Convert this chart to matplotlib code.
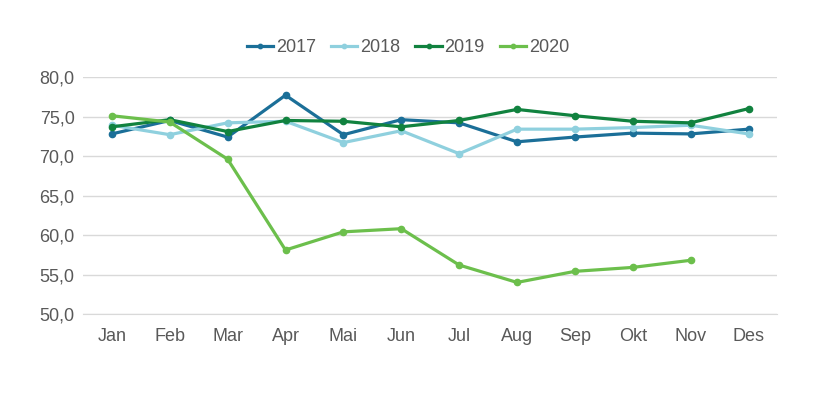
import matplotlib

matplotlib.use("Agg")
import matplotlib.pyplot as plt
from matplotlib.ticker import FuncFormatter

months = ["Jan", "Feb", "Mar", "Apr", "Mai", "Jun", "Jul", "Aug", "Sep", "Okt", "Nov", "Des"]
y2017 = [72.8, 74.5, 72.4, 77.7, 72.7, 74.6, 74.2, 71.8, 72.4, 72.9, 72.8, 73.4]
y2018 = [73.9, 72.7, 74.2, 74.4, 71.7, 73.2, 70.3, 73.4, 73.4, 73.6, 73.9, 72.8]
y2019 = [73.7, 74.6, 73.1, 74.5, 74.4, 73.7, 74.5, 75.9, 75.1, 74.4, 74.2, 76.0]
y2020 = [75.1, 74.3, 69.6, 58.1, 60.4, 60.8, 56.2, 54.0, 55.4, 55.9, 56.8]

plt.rcParams["font.family"] = ["Liberation Sans", "DejaVu Sans"]

fig = plt.figure(figsize=(8.21, 3.93), dpi=100)
ax = fig.add_axes([0.101, 0.201, 0.846, 0.603])

series = [
    ("2017", y2017, "#1b6f98"),
    ("2018", y2018, "#8fd0de"),
    ("2019", y2019, "#11823f"),
    ("2020", y2020, "#6cbf4c"),
]
for label, vals, color in series:
    ax.plot(range(len(vals)), vals, "-o", color=color, lw=2.3, ms=4.5, label=label)

ax.set_xlim(-0.5, 11.5)
ax.set_ylim(50, 80)
ax.set_yticks(range(50, 81, 5))
ax.yaxis.set_major_formatter(FuncFormatter(lambda v, _: f"{v:.1f}".replace(".", ",")))
ax.set_xticks(range(12))
ax.set_xticklabels(months)
ax.grid(axis="y", color="#d9d9d9", lw=1)
ax.set_axisbelow(True)
for s in ["top", "right", "left"]:
    ax.spines[s].set_visible(False)
ax.spines["bottom"].set_color("#d9d9d9")
ax.tick_params(length=0, labelsize=13, colors="#595959")
ax.tick_params(axis="x", pad=10)
ax.tick_params(axis="y", pad=6)

# legend sits a bit left of the axes centre in the original
ax.legend(loc="lower center", bbox_to_anchor=(0.468, 1.02), ncol=4, frameon=False,
          fontsize=13, labelcolor="#595959", handlelength=1.45, handletextpad=0.15,
          columnspacing=0.85, markerscale=0.7)

fig.savefig("out.png", dpi=100)
